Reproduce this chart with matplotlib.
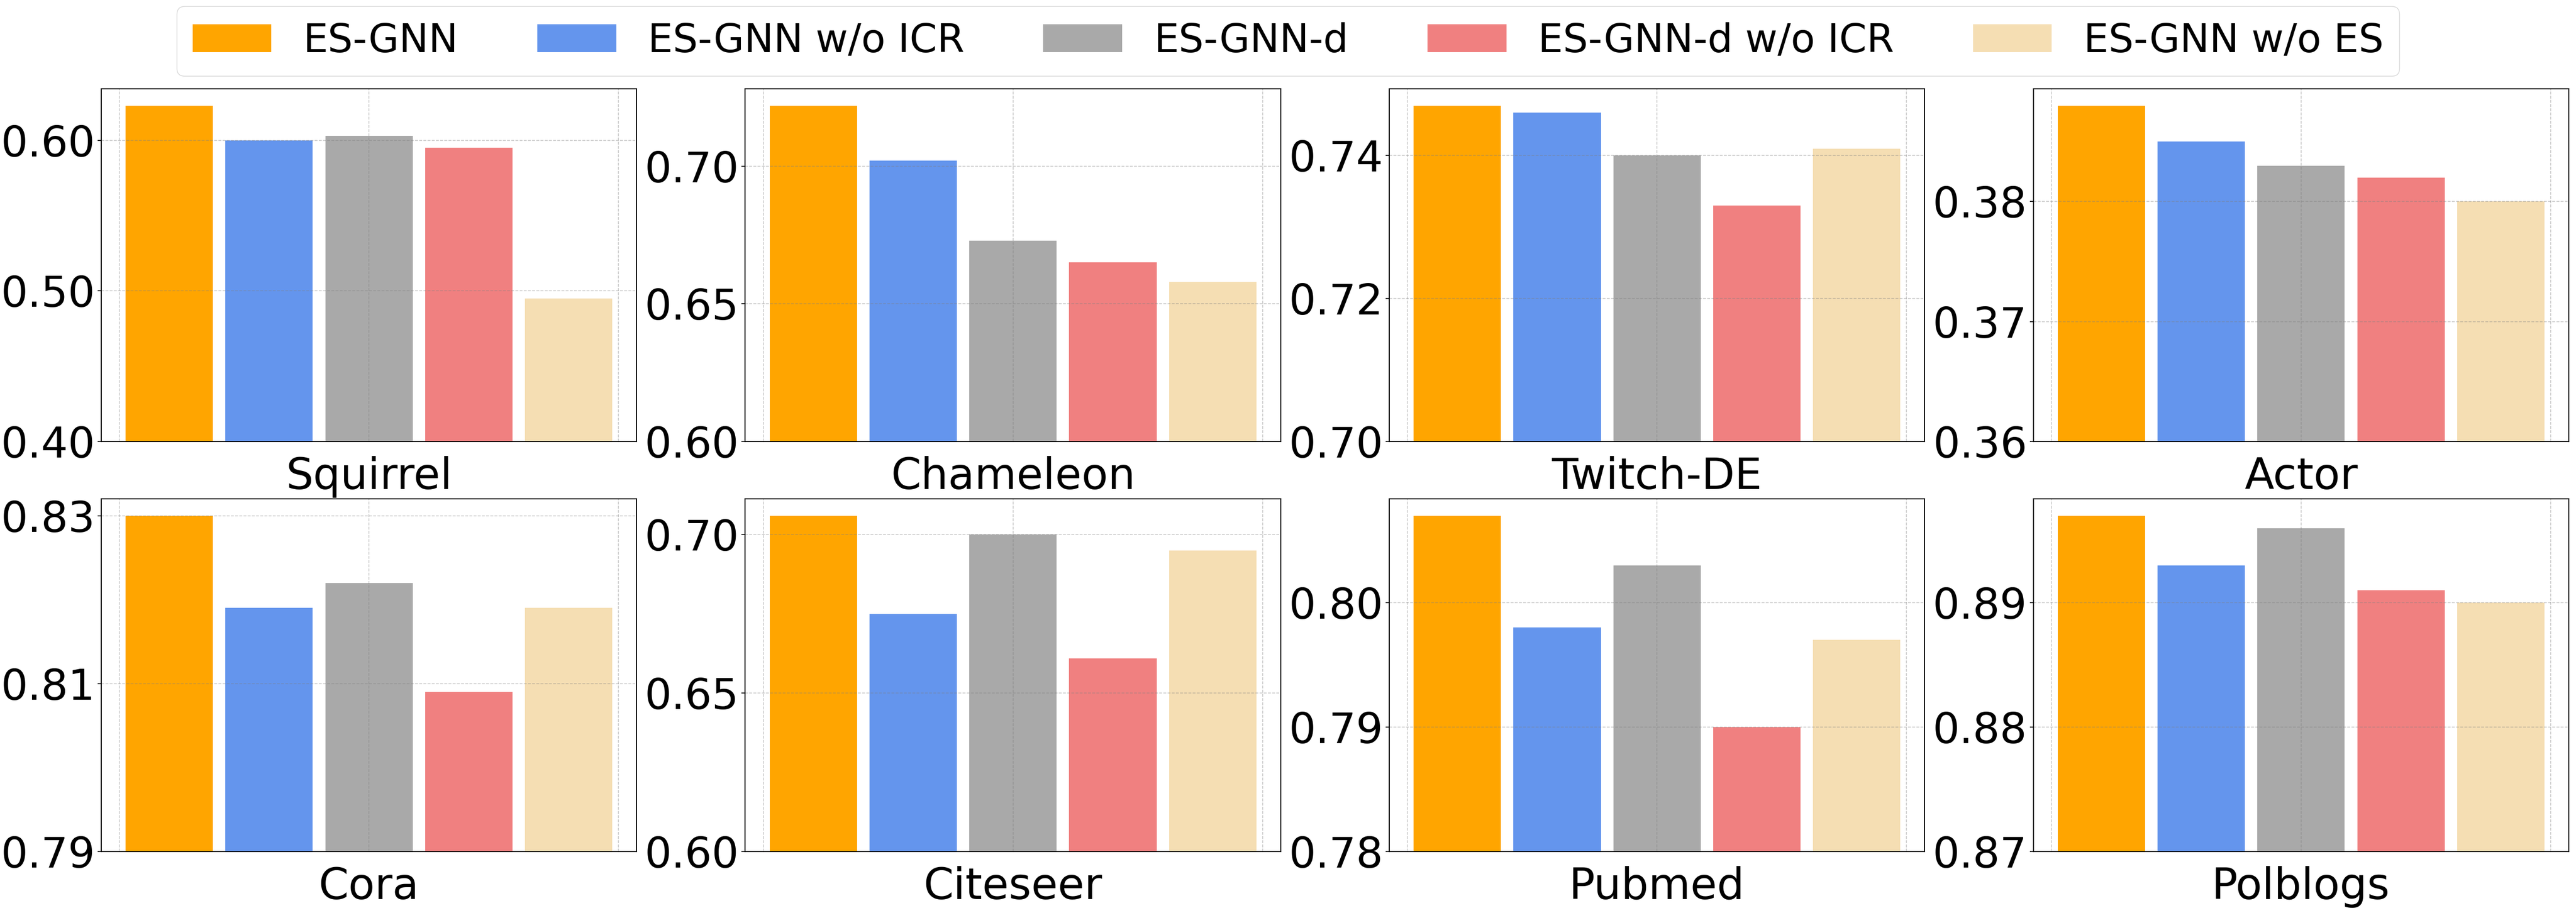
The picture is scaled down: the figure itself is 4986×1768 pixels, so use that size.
import numpy as np
import matplotlib
matplotlib.use('Agg')
import matplotlib.pyplot as plt

methods = ['ES-GNN', 'ES-GNN w/o ICR', 'ES-GNN-d', 'ES-GNN-d w/o ICR', 'ES-GNN w/o ES']
colors = ['orange', 'cornflowerblue', 'darkgray', 'lightcoral', 'wheat']

datasets = ['Squirrel', 'Chameleon', 'Twitch-DE', 'Actor',
            'Cora', 'Citeseer', 'Pubmed', 'Polblogs']

# one list per dataset, in the order of methods
squirrel = [0.623, 0.600, 0.603, 0.595, 0.495]
chameleon = [0.722, 0.702, 0.673, 0.665, 0.658]
twitch_de = [0.747, 0.746, 0.740, 0.733, 0.741]
actor = [0.388, 0.385, 0.383, 0.382, 0.380]
cora = [0.830, 0.819, 0.822, 0.809, 0.819]
citeseer = [0.706, 0.675, 0.700, 0.661, 0.695]
pubmed = [0.807, 0.798, 0.803, 0.790, 0.797]
polblogs = [0.897, 0.893, 0.896, 0.891, 0.890]
scores = [squirrel, chameleon, twitch_de, actor, cora, citeseer, pubmed, polblogs]

# y ticks of every panel (first one is also the bottom of the axis)
yticks = [[0.40, 0.50, 0.60], [0.60, 0.65, 0.70], [0.70, 0.72, 0.74], [0.36, 0.37, 0.38],
          [0.79, 0.81, 0.83], [0.60, 0.65, 0.70], [0.78, 0.79, 0.80], [0.87, 0.88, 0.89]]

fs = 59
bar_w = 0.175
offsets = (np.arange(len(methods)) - 2) * 0.2

fig, axes = plt.subplots(2, 4, figsize=(49.86, 17.68), dpi=100)
fig.subplots_adjust(left=0.0393, right=0.9972, top=0.9027, bottom=0.0673,
                    wspace=0.2027, hspace=0.1625)

for ax, name, vals, yt in zip(axes.flat, datasets, scores, yticks):
    for k in range(len(methods)):
        ax.bar(offsets[k], vals[k], width=bar_w, color=colors[k], label=methods[k])
    lo = yt[0]
    ax.set_ylim(lo, lo + (max(vals) - lo) * 1.05)
    ax.set_yticks(yt)
    ax.set_yticklabels(['%.2f' % t for t in yt], fontsize=fs)
    ax.set_xticks([-0.5, 0, 0.5])
    ax.tick_params(axis='x', bottom=False, labelbottom=False)
    ax.tick_params(axis='y', length=5, width=1.2)
    ax.grid(True, linestyle='--', color='gray', alpha=0.45, linewidth=1.1)
    ax.set_xlabel(name, fontsize=60, labelpad=20)
    for sp in ax.spines.values():
        sp.set_linewidth(1.5)

handles, labels = axes[0, 0].get_legend_handles_labels()
fig.legend(handles, labels, loc='upper center', bbox_to_anchor=(0.5, 0.993),
           ncol=5, fontsize=55, borderaxespad=0, frameon=True)

plt.savefig('out.png')
